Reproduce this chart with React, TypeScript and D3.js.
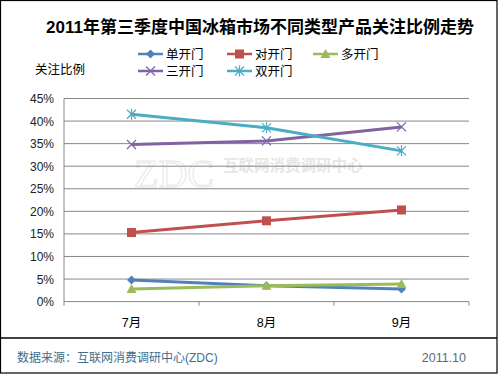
import React from "react";
import * as d3 from "d3";

const categories = ["7月", "8月", "9月"];
const seriesNames = ["单开门", "对开门", "多开门", "三开门", "双开门"];
const single = [4.8, 3.5, 2.8];
const doubleDoor = [15.3, 17.9, 20.3];
const multi = [2.8, 3.5, 3.9];
const triple = [34.8, 35.6, 38.7];
const shuang = [41.5, 38.5, 33.4];
const yTicks = [0, 5, 10, 15, 20, 25, 30, 35, 40, 45];

const colors = ["#4F81BD", "#C0504D", "#9BBB59", "#8064A2", "#4BACC6"];
const markers = ["diamond", "square", "triangle", "x", "star"];
const seriesValues = [single, doubleDoor, multi, triple, shuang];

const W = 500;
const H = 375;
const left = 64;
const right = 469;
const top = 98.5;
const bottom = 301.6;
const font = "'Liberation Sans', 'Noto Sans CJK SC', sans-serif";

function Marker({ type, x, y, color }: { type: string; x: number; y: number; color: string }) {
  if (type === "diamond") {
    const s = 4.5;
    return <path d={`M${x},${y - s}L${x + s},${y}L${x},${y + s}L${x - s},${y}Z`} fill={color} />;
  }
  if (type === "square") {
    const s = 4.5;
    return <rect x={x - s} y={y - s} width={2 * s} height={2 * s} fill={color} />;
  }
  if (type === "triangle") {
    const s = 5;
    return <path d={`M${x},${y - s}L${x + s},${y + s * 0.8}L${x - s},${y + s * 0.8}Z`} fill={color} />;
  }
  if (type === "x") {
    const s = 4.5;
    return (
      <path d={`M${x - s},${y - s}L${x + s},${y + s}M${x - s},${y + s}L${x + s},${y - s}`} stroke={color} strokeWidth={1.2} fill="none" />
    );
  }
  const s = 4.5;
  return (
    <path
      d={`M${x - s},${y - s}L${x + s},${y + s}M${x - s},${y + s}L${x + s},${y - s}M${x},${y - s - 1}L${x},${y + s + 1}`}
      stroke={color}
      strokeWidth={1.2}
      fill="none"
    />
  );
}

export default function App() {
  const x = d3.scaleBand<string>().domain(categories).range([left, right]);
  const y = d3.scaleLinear().domain([0, 45]).range([bottom, top]);
  const line = d3
    .line<number>()
    .x((_, i) => (x(categories[i]) as number) + x.bandwidth() / 2)
    .y((d) => y(d));

  const legendPos = [
    { lx: 138, ty: 54 },
    { lx: 227, ty: 54 },
    { lx: 313, ty: 54 },
    { lx: 138, ty: 71 },
    { lx: 227, ty: 71 },
  ];

  const tickXs = [left, ...categories.map((c) => (x(c) as number) + x.bandwidth())];

  return (
    <svg width={W} height={H} style={{ position: "absolute", left: 0, top: 0 }}>
      <rect x={0} y={0} width={W} height={H} fill="#fff" />
      <rect x={0.5} y={0.5} width={496.5} height={372.5} fill="none" stroke="#000" strokeWidth={1.2} />
      <text x={260} y={33} textAnchor="middle" fontFamily={font} fontWeight="bold" fontSize={17} fill="#000">
        2011年第三季度中国冰箱市场不同类型产品关注比例走势
      </text>
      {seriesNames.map((n, i) => {
        const p = legendPos[i];
        return (
          <g key={n}>
            <line x1={p.lx} x2={p.lx + 25} y1={p.ty} y2={p.ty} stroke={colors[i]} strokeWidth={2.5} />
            <Marker type={markers[i]} x={p.lx + 12.5} y={p.ty} color={colors[i]} />
            <text x={p.lx + 28} y={p.ty + 4.5} fontFamily={font} fontSize={12.5} fill="#000">
              {n}
            </text>
          </g>
        );
      })}
      <text x={35} y={74} fontFamily={font} fontSize={12.5} fill="#000">
        关注比例
      </text>
      {/* watermark */}
      <g opacity={0.5}>
        <text x={134} y={187} fontFamily="'Liberation Serif', 'DejaVu Serif', serif" fontSize={40} fill="#fff" stroke="#cfcfcf" strokeWidth={1}>
          ZDC
        </text>
        <text x={223} y={171} fontFamily={font} fontSize={15.5} fill="#cfcfcf" fontWeight="bold">
          互联网消费调研中心
        </text>
      </g>
      {yTicks.map((t) => (
        <g key={t}>
          {t > 0 && <line x1={left} x2={right} y1={y(t)} y2={y(t)} stroke="#878787" strokeWidth={1} />}
          <text x={54} y={y(t) + 4.5} textAnchor="end" fontFamily={font} fontSize={12} fill="#222">
            {t}%
          </text>
        </g>
      ))}
      <line x1={left} x2={left} y1={top} y2={bottom} stroke="#878787" strokeWidth={1} />
      <line x1={left} x2={right} y1={bottom} y2={bottom} stroke="#878787" strokeWidth={1} />
      {tickXs.map((tx, i) => (
        <line key={i} x1={tx} x2={tx} y1={bottom} y2={bottom + 4} stroke="#878787" strokeWidth={1} />
      ))}
      {categories.map((c) => (
        <text
          key={c}
          x={(x(c) as number) + x.bandwidth() / 2}
          y={327}
          textAnchor="middle"
          fontFamily={font}
          fontSize={12.5}
          fill="#000"
        >
          {c}
        </text>
      ))}
      {seriesValues.map((vals, i) => (
        <g key={i}>
          <path d={line(vals) || ""} fill="none" stroke={colors[i]} strokeWidth={3} strokeLinejoin="round" />
          {vals.map((v, j) => (
            <Marker
              key={j}
              type={markers[i]}
              x={(x(categories[j]) as number) + x.bandwidth() / 2}
              y={y(v)}
              color={colors[i]}
            />
          ))}
        </g>
      ))}
      <line x1={0} x2={497} y1={338} y2={338} stroke="#000" strokeWidth={1.5} />
      <text x={17} y={362} fontFamily={font} fontSize={12} fill="#3F6E8E">
        数据来源：互联网消费调研中心(ZDC)
      </text>
      <text x={466} y={362} textAnchor="end" fontFamily={font} fontSize={12.5} fill="#5A6B7B">
        2011.10
      </text>
    </svg>
  );
}
